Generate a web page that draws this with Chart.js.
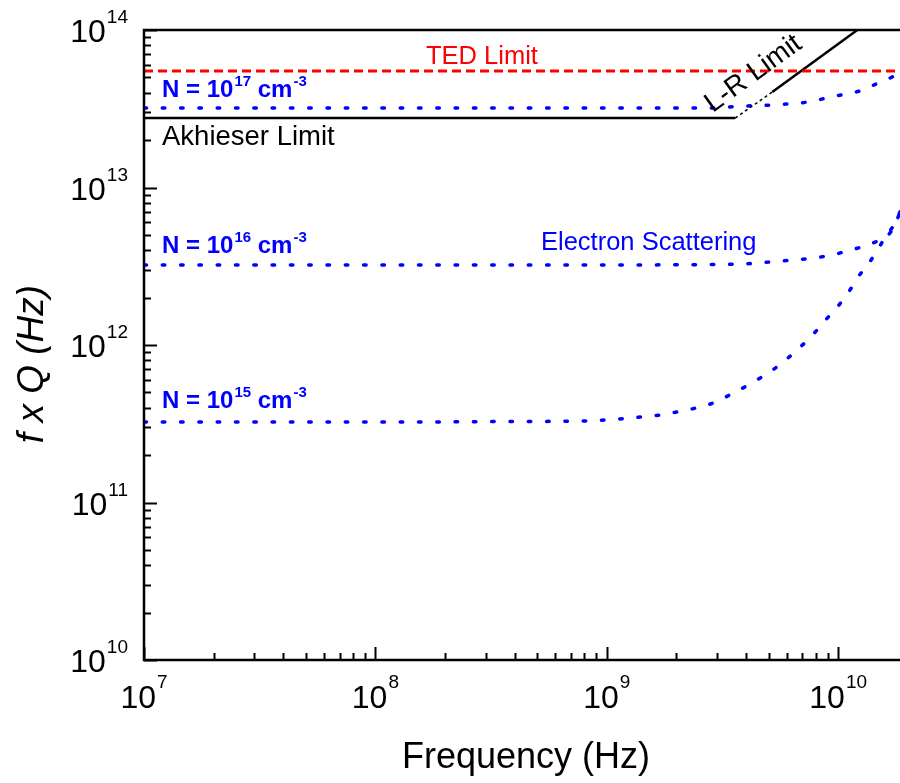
<!DOCTYPE html>
<html>
<head>
<meta charset="utf-8">
<script src="https://cdn.jsdelivr.net/npm/chart.js@4/dist/chart.umd.min.js"></script>
<style>
  html, body { margin: 0; padding: 0; background: #fff; }
  #wrap { width: 900px; height: 783px; }
</style>
</head>
<body>
<div id="wrap"><canvas id="fqChart" width="900" height="783"></canvas></div>
<script>
// axis ticks
const xTickValues = [1e7, 1e8, 1e9, 1e10];
const xTickExps = ["7", "8", "9", "10"];
const yTickValues = [1e10, 1e11, 1e12, 1e13, 1e14];
const yTickExps = ["10", "11", "12", "13", "14"];

// electron scattering curves
const n15Freq = [1e7, 1.28e8, 4.2e8, 7.7e8, 1.07e9, 1.26e9, 1.5e9, 1.74e9, 1.98e9, 2.25e9, 2.8e9, 3.52e9, 4.3e9, 5.35e9, 6.86e9, 7.96e9, 8.97e9, 1.0e10, 1.11e10, 1.22e10, 1.34e10, 1.46e10, 1.6e10, 1.73e10, 1.85e10];
const n15FQ = [3.24e11, 3.24e11, 3.27e11, 3.29e11, 3.37e11, 3.44e11, 3.53e11, 3.61e11, 3.74e11, 3.88e11, 4.22e11, 4.95e11, 5.82e11, 7.14e11, 9.71e11, 1.21e12, 1.48e12, 1.77e12, 2.17e12, 2.71e12, 3.22e12, 3.89e12, 4.85e12, 5.7e12, 7.0e12];

const n16Freq = [1e7, 9.35e8, 2.54e9, 3.89e9, 5.62e9, 7.81e9, 9.44e9, 1.09e10, 1.26e10, 1.45e10, 1.63e10, 1.75e10, 1.85e10];
const n16FQ = [3.22e12, 3.22e12, 3.24e12, 3.27e12, 3.41e12, 3.57e12, 3.73e12, 3.95e12, 4.19e12, 4.51e12, 4.92e12, 5.7e12, 6.98e12];

const n17Freq = [1e7, 2.8e9, 3.89e9, 4.6e9, 5.62e9, 6.6e9, 7.81e9, 9.2e9, 1.09e10, 1.28e10, 1.49e10, 1.71e10, 1.85e10];
const n17FQ = [3.2e13, 3.2e13, 3.29e13, 3.31e13, 3.37e13, 3.42e13, 3.54e13, 3.75e13, 3.93e13, 4.16e13, 4.61e13, 5.03e13, 5.41e13];

// limits
const tedFreq = [1e7, 1.85e10];
const tedFQ = [5.5e13, 5.5e13];
const akhFreq = [1e7, 3.59e9];
const akhFQ = [2.76e13, 2.76e13];
const lrGapFreq = [3.59e9, 5.19e9];
const lrGapFQ = [2.76e13, 4.04e13];
const lrFreq = [5.19e9, 1.21e10];
const lrFQ = [4.04e13, 1e14];

function pts(xs, ys) {
    return xs.map((x, i) => ({ x: x, y: ys[i] }));
}

const BLUE = "#0000ff";
const FONT = "Arial, 'Liberation Sans', sans-serif";

function dotted(data) {
    return {
        data: data,
        borderColor: BLUE,
        borderWidth: 3.5,
        borderDash: [2.5, 15.8],
        borderCapStyle: "round",
        cubicInterpolationMode: "monotone",
        pointRadius: 0,
        fill: false
    };
}

function drawPow(ctx, x, y, base, exp, baseFont, expFont, rise, align) {
    ctx.font = baseFont;
    const wb = ctx.measureText(base).width;
    ctx.font = expFont;
    const we = ctx.measureText(exp).width;
    let x0 = x;
    if (align === "center") x0 = x - (wb + we + 1) / 2;
    if (align === "right") x0 = x - (wb + we + 1);
    ctx.textAlign = "left";
    ctx.textBaseline = "alphabetic";
    ctx.font = baseFont;
    ctx.fillText(base, x0, y);
    ctx.font = expFont;
    ctx.fillText(exp, x0 + wb + 1, y - rise);
}

function drawDensity(ctx, x, y, exp) {
    const big = "bold 24px " + FONT;
    const small = "bold 15px " + FONT;
    ctx.fillStyle = BLUE;
    ctx.textAlign = "left";
    ctx.textBaseline = "alphabetic";
    ctx.font = big;
    ctx.fillText("N = 10", x, y);
    let cx = x + ctx.measureText("N = 10").width + 1;
    ctx.font = small;
    ctx.fillText(exp, cx, y - 11);
    cx += ctx.measureText(exp).width;
    ctx.font = big;
    ctx.fillText(" cm", cx, y);
    cx += ctx.measureText(" cm").width + 1;
    ctx.font = small;
    ctx.fillText("-3", cx, y - 11);
}

const framePlugin = {
    id: "frame",
    afterDatasetsDraw(chart) {
        const ctx = chart.ctx;
        const xs = chart.scales.x;
        const ys = chart.scales.y;
        const a = chart.chartArea;
        ctx.save();
        ctx.strokeStyle = "#000";
        ctx.fillStyle = "#000";

        // frame: left, bottom, top
        ctx.lineWidth = 2.5;
        ctx.beginPath();
        ctx.moveTo(a.right, a.top);
        ctx.lineTo(a.left, a.top);
        ctx.lineTo(a.left, a.bottom);
        ctx.lineTo(a.right, a.bottom);
        ctx.stroke();

        // ticks pointing inward
        ctx.lineWidth = 2;
        for (let d = 7; d <= 10; d++) {
            for (let m = 1; m <= 9; m++) {
                const v = m * Math.pow(10, d);
                if (v > xs.max * 1.0001) continue;
                const px = Math.round(xs.getPixelForValue(v)) + 0.5;
                const len = m === 1 ? 13 : 7;
                ctx.beginPath();
                ctx.moveTo(px, a.bottom);
                ctx.lineTo(px, a.bottom - len);
                ctx.stroke();
            }
        }
        for (let d = 10; d <= 14; d++) {
            for (let m = 1; m <= 9; m++) {
                const v = m * Math.pow(10, d);
                if (v > ys.max * 1.0001) continue;
                const py = Math.round(ys.getPixelForValue(v)) + 0.5;
                const len = m === 1 ? 13 : 7;
                ctx.beginPath();
                ctx.moveTo(a.left, py);
                ctx.lineTo(a.left + len, py);
                ctx.stroke();
            }
        }

        // tick labels
        const baseFont = "32px " + FONT;
        const expFont = "19px " + FONT;
        xTickValues.forEach((v, i) => {
            drawPow(ctx, xs.getPixelForValue(v), a.bottom + 48, "10", xTickExps[i], baseFont, expFont, 20, "center");
        });
        yTickValues.forEach((v, i) => {
            drawPow(ctx, a.left - 16, ys.getPixelForValue(v) + 12, "10", yTickExps[i], baseFont, expFont, 19, "right");
        });

        // axis titles
        ctx.font = "36px " + FONT;
        ctx.textAlign = "center";
        ctx.fillText("Frequency (Hz)", 526, 768);
        ctx.save();
        ctx.translate(43, 364);
        ctx.rotate(-Math.PI / 2);
        ctx.font = "italic 37px " + FONT;
        ctx.fillText("f x Q (Hz)", 0, 0);
        ctx.restore();

        // annotations
        ctx.textAlign = "left";
        ctx.font = "25.5px " + FONT;
        ctx.fillStyle = "#ff0000";
        ctx.fillText("TED Limit", 426, 64);
        ctx.fillStyle = "#000";
        ctx.font = "27.5px " + FONT;
        ctx.fillText("Akhieser Limit", 162, 145);
        ctx.fillStyle = BLUE;
        ctx.font = "25.5px " + FONT;
        ctx.fillText("Electron Scattering", 541, 250);

        ctx.save();
        ctx.fillStyle = "#000";
        ctx.translate(758, 80);
        ctx.rotate(-36 * Math.PI / 180);
        ctx.font = "28px " + FONT;
        ctx.textAlign = "center";
        ctx.fillText("L-R Limit", 0, 0);
        ctx.restore();

        drawDensity(ctx, 162, 97, "17");
        drawDensity(ctx, 162, 253, "16");
        drawDensity(ctx, 162, 408, "15");

        ctx.restore();
    }
};

const ctx = document.getElementById("fqChart").getContext("2d");

new Chart(ctx, {
    type: "line",
    data: {
        datasets: [
            {
                data: pts(tedFreq, tedFQ),
                borderColor: "#ff0000",
                borderWidth: 3,
                borderDash: [9, 5],
                pointRadius: 0
            },
            {
                data: pts(akhFreq, akhFQ),
                borderColor: "#000",
                borderWidth: 2.5,
                pointRadius: 0
            },
            {
                data: pts(lrGapFreq, lrGapFQ),
                borderColor: "#000",
                borderWidth: 1.5,
                borderDash: [3, 3],
                pointRadius: 0
            },
            {
                data: pts(lrFreq, lrFQ),
                borderColor: "#000",
                borderWidth: 2.5,
                pointRadius: 0
            },
            dotted(pts(n17Freq, n17FQ)),
            dotted(pts(n16Freq, n16FQ)),
            dotted(pts(n15Freq, n15FQ))
        ]
    },
    options: {
        responsive: false,
        animation: false,
        devicePixelRatio: 1,
        layout: { padding: { left: 144, top: 30, right: 0, bottom: 123 } },
        plugins: {
            legend: { display: false },
            tooltip: { enabled: false }
        },
        scales: {
            x: {
                type: "logarithmic",
                min: 1e7,
                max: 1.85e10,
                display: false
            },
            y: {
                type: "logarithmic",
                min: 1e10,
                max: 1e14,
                display: false
            }
        }
    },
    plugins: [framePlugin]
});
</script>
</body>
</html>
